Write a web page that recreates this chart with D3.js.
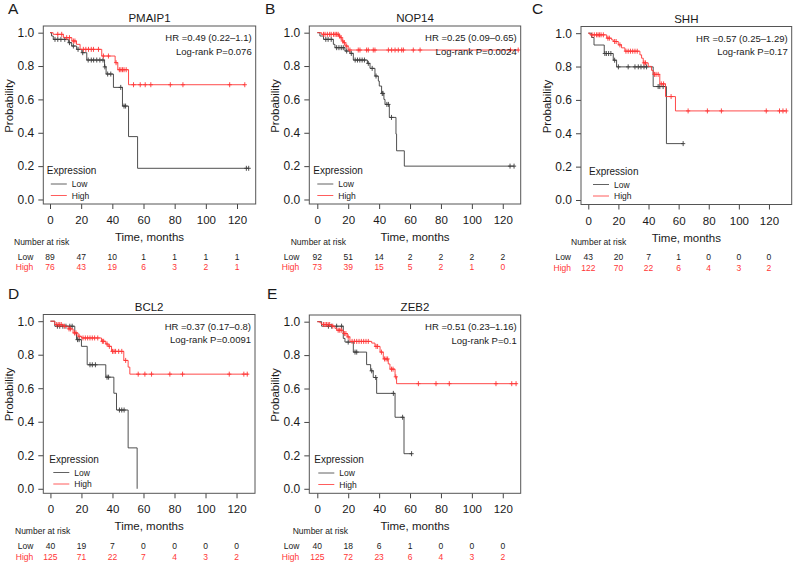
<!DOCTYPE html>
<html><head><meta charset="utf-8">
<script src="https://cdn.jsdelivr.net/npm/d3@7"></script>
<style>body{margin:0;background:#fff}svg{display:block}text{font-family:"Liberation Sans",Arial,Helvetica,sans-serif}</style>
</head><body><svg id="c" width="794" height="563"></svg>
<script>
// ---------- DATA ----------
const genes = ["PMAIP1","NOP14","SHH","BCL2","ZEB2"];
const panelLetters = ["A","B","C","D","E"];
const hrTexts = ["HR =0.49 (0.22\u20131.1)","HR =0.25 (0.09\u20130.65)","HR =0.57 (0.25\u20131.29)","HR =0.37 (0.17\u20130.8)","HR =0.51 (0.23\u20131.16)"];
const pTexts = ["Log-rank P=0.076","Log-rank P=0.0024","Log-rank P=0.17","Log-rank P=0.0091","Log-rank P=0.1"];
const yTicks = [0,0.2,0.4,0.6,0.8,1.0];
const riskTimes = [0,20,40,60,80,100,120];
const riskLow = [[89,47,10,1,1,1,1],[92,51,14,2,2,2,2],[43,20,7,1,0,0,0],[40,19,7,0,0,0,0],[40,18,6,1,0,0,0]];
const riskHigh = [[76,43,19,6,3,2,1],[73,39,15,5,2,1,0],[122,70,22,6,4,3,2],[125,71,22,7,4,3,2],[125,72,23,6,4,3,2]];
const seriesNames = ["Low","High"];

// Kaplan-Meier step points [time, survival]
const lowA = [[0,1],[1,0.98],[2.1,0.96],[11.8,0.94],[13.9,0.92],[17.1,0.9],[20.4,0.88],[23.6,0.836],[35,0.795],[36,0.752],[40.7,0.672],[46.5,0.56],[50.4,0.377],[56.2,0.187],[127.5,0.187]];
const highA = [[0,1],[2,0.99],[8.6,0.97],[14,0.95],[17,0.93],[19.3,0.9],[33.2,0.86],[41.8,0.82],[43.5,0.778],[50.4,0.688],[125,0.688]];
const lowB = [[0,1],[1.7,0.98],[4,0.96],[10.4,0.93],[11.4,0.91],[17.9,0.89],[21.1,0.876],[23.3,0.836],[32.4,0.816],[34.1,0.786],[37.3,0.74],[39.5,0.71],[40.1,0.68],[41.6,0.636],[43.1,0.6],[43.8,0.57],[46.6,0.492],[50.9,0.392],[51.3,0.292],[56.3,0.2],[127.3,0.2]];
const highB = [[0,1],[2.8,0.99],[13.8,0.98],[14.8,0.97],[16,0.95],[17,0.94],[18,0.92],[20,0.896],[130,0.896]];
const lowC = [[0,1],[2.2,0.974],[3.8,0.929],[10.6,0.878],[16.6,0.838],[18.8,0.798],[43.1,0.68],[51.9,0.338],[63,0.338]];
const highC = [[0,1],[1.1,0.99],[12.2,0.97],[15.5,0.96],[16.6,0.95],[19.9,0.93],[22.1,0.912],[24.3,0.892],[34.3,0.87],[35.4,0.85],[36.5,0.822],[39.8,0.801],[42,0.777],[43.1,0.753],[47.5,0.696],[51.3,0.62],[57.9,0.534],[131.5,0.534]];
const lowD = [[0,1],[2.8,0.97],[15.7,0.93],[16.8,0.89],[20,0.85],[23.7,0.74],[35.7,0.666],[40.9,0.57],[42.6,0.47],[50.1,0.244],[55.9,0]];
const highD = [[0,1],[2.8,0.98],[8.2,0.97],[11.4,0.954],[14.6,0.93],[17.8,0.91],[20,0.9],[32.9,0.88],[35.7,0.864],[37.2,0.85],[39.4,0.82],[47.3,0.766],[50.1,0.726],[51.2,0.684],[127.5,0.684]];
const lowE = [[0,1],[2.8,0.973],[16.8,0.9],[17.9,0.878],[23.3,0.818],[31.9,0.743],[34.5,0.706],[36.2,0.666],[38.4,0.571],[50.3,0.428],[56.1,0.21],[61,0.21]];
const highE = [[0,1],[1.7,0.993],[2.8,0.983],[9.3,0.973],[11.4,0.96],[12.5,0.949],[16.8,0.929],[19.4,0.909],[21.1,0.882],[35.2,0.872],[37.3,0.852],[40.6,0.818],[42.7,0.777],[45.9,0.747],[47,0.716],[50.3,0.67],[51.3,0.629],[129,0.629]];

// censored observation times
const lowCensA = [3.2,5,7,9.5,12.5,15,18,21,24.5,26.5,28,30,32,34,35.2,37,39,45.4,47.5,48.5,126,127.5];
const highCensA = [5,7.5,10.7,12.5,15,16,21.4,23,24.7,26.5,27.9,31.1,34.3,37.5,42.4,44.5,45.5,46.5,47.5,48.9,53.6,57.9,61.1,64.7,77.2,85.3,115.3,125];
const lowCensB = [5.5,7,9,12.5,14,15.5,16.8,19,22,24.5,26,27.5,29,30.5,33,35.5,38,42,42.5,45,46,48,124.7,127.3];
const highCensB = [4,5,6.5,8,9,10.5,11.5,12.5,13.5,14.3,15.4,16.5,17.5,19,21.1,26.5,27.6,31.9,33,36.2,37.3,46,48.1,50.3,52.4,54.6,55.7,62.1,66.5,125,130];
const lowCensC = [11,12,13.5,15,17.5,20,26.5,31,33.2,35,37,38.7,46.4,47.5,49.7,63];
const highCensC = [2.5,4,5.5,6.5,7.5,8.5,10,13,14,17.5,18.5,21,25,26.5,28,29.5,31,32.5,37,38,44,45,46.4,48.5,50,55,66.3,79.1,88.4,118.2,127,129.3,131.5];
const lowCensD = [4.5,6,8,10,12.5,14,17.5,18.5,25.5,27,29,36.5,37.5,44.5,46,47.5];
const highCensD = [4,5,6,7,9,12,13,15.5,16.5,18.5,21,22.5,24,25.5,27,28.5,30.5,33.5,34.3,36.5,38,40,41,42,44,46,48.5,56.6,60.9,65.2,77,85.2,115.3,124.7,126.9];
const lowCensE = [7.2,9.3,12.5,15.7,20,24.4,25.5,35.2,37.8,49.2,55.2,61];
const highCensE = [4,5,6,7,8,10,13.5,14.5,15.5,17.5,18.5,20,22.5,24,25.5,27,28.5,30,31.5,33,38,39,41.5,43.5,44.5,45.5,48,49,50.8,65.4,76.8,85.4,115.6,125.8,128.6];

const lowCurves = [lowA,lowB,lowC,lowD,lowE];
const highCurves = [highA,highB,highC,highD,highE];
const lowCens = [lowCensA,lowCensB,lowCensC,lowCensD,lowCensE];
const highCens = [highCensA,highCensB,highCensC,highCensD,highCensE];

// ---------- LAYOUT ----------
const layouts = [
  {fx:43.3, fy:26,   fw:212.4, fh:178,   xd:[-4.3,132],    lx:8,   ly:14,  nar:14,    lg:3.5},
  {fx:309.3,fy:26,   fw:211.4, fh:178,   xd:[-5.18,131.6], lx:265, ly:14,  nar:290.7, lg:4},
  {fx:581,  fy:26.5, fw:210.7, fh:178,   xd:[-4.84,135.1], lx:532, ly:14,  nar:571,   lg:8},
  {fx:43.3, fy:314.5,fw:211.7, fh:178.8, xd:[-4.6,131.9],  lx:8,   ly:299, nar:15,    lg:6},
  {fx:309.3,fy:315,  fw:211.4, fh:178.3, xd:[-5.18,131.6], lx:267, ly:299, nar:292.7, lg:5}
];
const LOWC = "#3c3c3c", HIGHC = "#ff3535", TXT = "#1a1a1a";

const svg = d3.select("#c");

function survAt(curve, t){
  let s = curve[0][1];
  for (const p of curve){ if (p[0] <= t) s = p[1]; else break; }
  return s;
}

layouts.forEach((L,i)=>{
  const g = svg.append("g");
  const x = d3.scaleLinear().domain(L.xd).range([L.fx, L.fx+L.fw]);
  const y = d3.scaleLinear().domain([-0.027,1.04]).range([L.fy+L.fh, L.fy]);
  const fb = L.fy + L.fh;

  // panel letter
  g.append("text").attr("x",L.lx).attr("y",L.ly).attr("font-size",15.5).attr("fill",TXT).text(panelLetters[i]);
  // title
  g.append("text").attr("x",L.fx+L.fw/2).attr("y",L.fy-4).attr("text-anchor","middle").attr("font-size",11.5).attr("fill",TXT).text(genes[i]);

  // axes
  const ya = d3.axisLeft(y).tickValues(yTicks).tickFormat(d3.format(".1f")).tickSize(5).tickPadding(4);
  const yg = g.append("g").attr("transform",`translate(${L.fx},0)`).call(ya);
  yg.select(".domain").remove();
  yg.selectAll("line").attr("stroke","#444");
  yg.selectAll("text").attr("font-size",12).attr("fill",TXT).style("font-family",'"Liberation Sans",Arial,sans-serif');

  const xa = d3.axisBottom(x).tickValues(riskTimes).tickFormat(d3.format("d")).tickSize(5).tickPadding(7);
  const xg = g.append("g").attr("transform",`translate(0,${fb})`).call(xa);
  xg.select(".domain").remove();
  xg.selectAll("line").attr("stroke","#444");
  xg.selectAll("text").attr("font-size",11.5).attr("fill",TXT).style("font-family",'"Liberation Sans",Arial,sans-serif');

  // axis titles
  g.append("text").attr("transform",`translate(${L.fx-30},${L.fy+80}) rotate(-90)`).attr("text-anchor","middle").attr("font-size",11.5).attr("fill",TXT).text("Probability");
  g.append("text").attr("x",L.fx+L.fw/2).attr("y",fb+37).attr("text-anchor","middle").attr("font-size",11.5).attr("fill",TXT).text("Time, months");

  // curves
  const line = d3.line().x(d=>x(d[0])).y(d=>y(d[1])).curve(d3.curveStepAfter);
  const sets = [[lowCurves[i],lowCens[i],LOWC],[highCurves[i],highCens[i],HIGHC]];
  sets.forEach(([curve,cens,col])=>{
    g.append("path").datum(curve).attr("d",line).attr("fill","none").attr("stroke",col).attr("stroke-width",0.9);
    const m = g.append("g").attr("stroke",col).attr("stroke-width",0.9);
    cens.forEach(t=>{
      const cx = x(t), cy = y(survAt(curve,t));
      m.append("line").attr("x1",cx).attr("x2",cx).attr("y1",cy-2.5).attr("y2",cy+2.5);
      m.append("line").attr("x1",cx-2.1).attr("x2",cx+2.1).attr("y1",cy).attr("y2",cy);
    });
  });

  // frame
  g.append("rect").attr("x",L.fx).attr("y",L.fy).attr("width",L.fw).attr("height",L.fh).attr("fill","none").attr("stroke","#555").attr("stroke-width",1);

  // HR / p
  g.append("text").attr("x",L.fx+L.fw-4).attr("y",L.fy+15).attr("text-anchor","end").attr("font-size",9.5).attr("fill",TXT).text(hrTexts[i]);
  g.append("text").attr("x",L.fx+L.fw-4).attr("y",L.fy+28.5).attr("text-anchor","end").attr("font-size",9.5).attr("fill",TXT).text(pTexts[i]);

  // legend
  const lx0 = L.fx + L.lg;
  g.append("text").attr("x",lx0).attr("y",L.fy+148).attr("font-size",10).attr("fill",TXT).text("Expression");
  [[LOWC,158],[HIGHC,169.5]].forEach(([col,dy],k)=>{
    g.append("line").attr("x1",lx0+4).attr("x2",lx0+20).attr("y1",L.fy+dy).attr("y2",L.fy+dy).attr("stroke",col).attr("stroke-width",1).attr("opacity",0.8);
    g.append("text").attr("x",lx0+25).attr("y",L.fy+dy+3).attr("font-size",8.5).attr("fill",TXT).text(seriesNames[k]);
  });

  // number at risk
  g.append("text").attr("x",L.nar).attr("y",fb+40.5).attr("font-size",8.5).attr("fill",TXT).text("Number at risk");
  [[riskLow[i],TXT,55.5],[riskHigh[i],HIGHC,66.3]].forEach(([vals,col,dy],k)=>{
    g.append("text").attr("x",L.fx-10).attr("y",fb+dy).attr("text-anchor","end").attr("font-size",8.5).attr("fill",col).text(seriesNames[k]);
    g.selectAll(null).data(vals).enter().append("text")
      .attr("x",(d,j)=>x(riskTimes[j])).attr("y",fb+dy).attr("text-anchor","middle")
      .attr("font-size",8.5).attr("fill",col).text(d=>d);
  });
});
</script>
</body></html>
